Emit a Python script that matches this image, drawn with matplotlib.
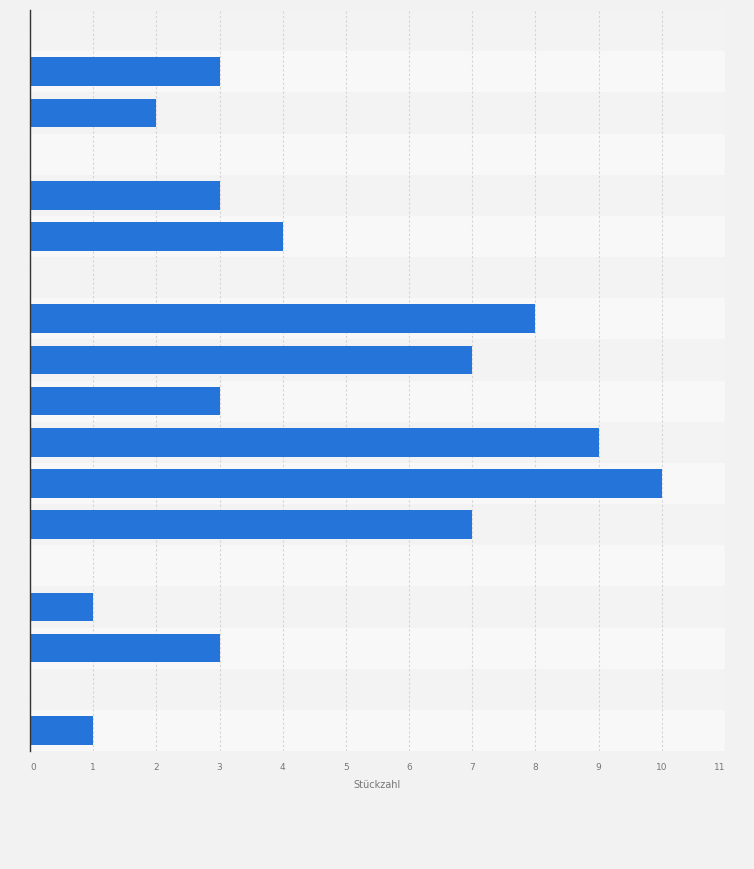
import matplotlib
matplotlib.use("Agg")
import matplotlib.pyplot as plt
import numpy as np

# Data (top to bottom); 0 = empty row
row_ids = list(range(18))
values = [0, 3, 2, 0, 3, 4, 0, 8, 7, 3, 9, 10, 7, 0, 1, 3, 0, 1]
x_ticks = list(range(0, 12))
x_label = "Stückzahl"

fig = plt.figure(figsize=(7.54, 8.70), dpi=100)
fig.patch.set_facecolor("#f2f2f2")
ax = fig.add_axes([30/754, 1-752/870, (725-30)/754, (752-11)/870])
ax.set_facecolor("#f2f2f2")

n = len(values)
y = np.arange(n)
for i in y:
    ax.axhspan(i-0.5, i+0.5, color="#f3f3f3" if i % 2 == 0 else "#f8f8f8", zorder=0, lw=0)

ax.barh(y, values, height=0.7, color="#2574d9", zorder=3)
ax.set_ylim(n-0.5, -0.5)
ax.set_xlim(0, 11)
ax.set_yticks([])
ax.set_xticks(x_ticks)
ax.set_xticklabels([str(t) for t in x_ticks], fontsize=6.5, color="#777777")
labels = ax.get_xticklabels()
labels[0].set_horizontalalignment("left")
labels[-1].set_horizontalalignment("right")
ax.tick_params(axis="x", length=0, pad=8)
ax.grid(axis="x", color="#d4d4d4", linestyle=(0, (2, 2)), linewidth=0.8, zorder=1)
ax.set_axisbelow(True)
for s in ["top", "right", "bottom"]:
    ax.spines[s].set_visible(False)
ax.spines["left"].set_color("#333333")
ax.spines["left"].set_linewidth(1.0)
ax.spines["left"].set_zorder(5)
ax.set_xlabel(x_label, fontsize=7, color="#777777", labelpad=6)

fig.savefig("out.png", dpi=100, facecolor=fig.get_facecolor())
